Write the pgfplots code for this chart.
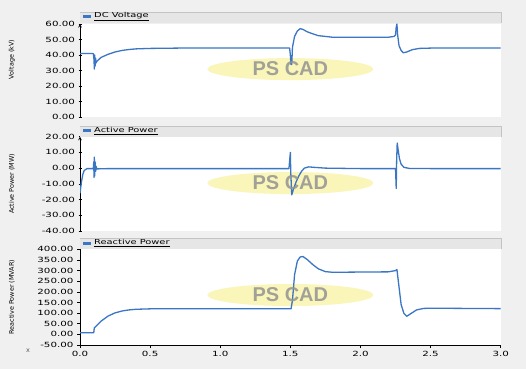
\documentclass[border=0pt]{standalone}
\usepackage{pgfplots}
\pgfplotsset{compat=1.18}
\usepackage{fontspec}
\setmainfont{DejaVu Sans}
\newfontfamily\tickfont[FakeStretch=1.45]{DejaVu Sans}
\newfontfamily\wmfont{Liberation Sans}
\definecolor{bg}{HTML}{F0F0F0}
\definecolor{bar}{HTML}{E6E6E6}
\definecolor{barline}{HTML}{C4C4C4}
\definecolor{trace}{RGB}{58,118,196}
\definecolor{wmy}{RGB}{250,246,185}
\begin{document}
\begin{tikzpicture}
\fill[bg] (0pt,0pt) rectangle (526pt,369pt);
\pgfplotsset{
  panel/.style={
    scale only axis, width=420.7pt,
    xmin=0, xmax=3, 
    axis background/.style={fill=white},
    axis line style={black, line width=0.6pt},
    tick align=outside, tick style={black, line width=0.5pt},
    major tick length=3pt,
    yticklabel style={font=\tickfont\fontsize{7.1}{7.2}\selectfont, /pgf/number format/fixed, /pgf/number format/fixed zerofill, /pgf/number format/precision=2},
    xticklabel style={font=\tickfont\fontsize{7.1}{7.2}\selectfont, /pgf/number format/fixed, /pgf/number format/fixed zerofill, /pgf/number format/precision=1},
    /pgf/number format/assume math mode=true,
    every axis y label/.style={at={(axis description cs:-0.162,0.5)}, rotate=90, anchor=center, font=\fontsize{6.4}{6.5}\selectfont},
    clip=true,
  },
  tr/.style={trace, line width=1.3pt, line join=round},
}
% ---------- Panel 1 ----------
\begin{axis}[panel, name=ax1, at={(80pt,251.7pt)}, anchor=south west, height=93.3pt,
  ymin=0, ymax=60, ytick={0,10,...,60},
  axis y line=left, axis x line=none,
  ylabel={Voltage (kV)},
  every axis y label/.append style={at={(axis description cs:-0.162,0.62)}}]
\fill[wmy] (axis cs:1.5,31) ellipse [x radius=83pt, y radius=11pt];
\addplot[tr] coordinates {
(0,41)(0.095,41)(0.1,37)(0.102,31)(0.105,40)(0.108,33)(0.111,38)(0.115,35)(0.12,36)
(0.15,38.5)(0.2,40.5)(0.25,42)(0.3,43)(0.35,43.6)(0.4,44)(0.5,44.3)(0.7,44.5)(1.0,44.5)
(1.3,44.5)(1.495,44.5)(1.5,40)(1.504,34)(1.51,34)(1.515,45)(1.53,52)(1.55,55.5)(1.57,57)
(1.59,56.5)(1.62,55)(1.65,54)(1.7,52.5)(1.75,52)(1.8,51.5)(2.0,51.5)(2.2,51.5)(2.24,52)
(2.25,53)(2.255,58)(2.26,60)(2.265,53)(2.275,46)(2.29,43)(2.305,41.5)(2.33,42)(2.37,43.5)
(2.42,44.3)(2.5,44.5)(3.0,44.5)};
\node[font=\wmfont\bfseries\fontsize{20}{20}\selectfont, text=gray!85, opacity=0.85] at (axis cs:1.5,31) {PS CAD};
\end{axis}
% ---------- Panel 2 ----------
\begin{axis}[panel, name=ax2, at={(80pt,138pt)}, anchor=south west, height=94.3pt,
  ymin=-40, ymax=20, ytick={-40,-30,...,20},
  axis y line=left, axis x line=none,
  ylabel={Active Power (MW)}]
\fill[wmy] (axis cs:1.5,-9.5) ellipse [x radius=83pt, y radius=11pt];
\addplot[tr] coordinates {
(0,-16)(0.01,-9)(0.02,-4)(0.03,-1.5)(0.05,-0.3)(0.095,-0.3)(0.098,4)(0.1,-6)(0.102,7)(0.105,-5)
(0.108,4)(0.112,-2)(0.116,1)(0.12,-0.5)(0.2,-0.3)(0.5,-0.3)(1.0,-0.3)(1.49,-0.3)(1.5,10)
(1.503,-3)(1.51,-17)(1.52,-14)(1.54,-9)(1.56,-5)(1.58,-2)(1.6,0)(1.63,0.8)(1.67,0.5)(1.75,0)
(2.0,-0.3)(2.25,-0.3)(2.255,-13)(2.258,5)(2.262,16)(2.268,12)(2.278,6)(2.29,2.5)(2.31,0.5)
(2.35,-0.2)(2.5,-0.3)(3.0,-0.3)};
\node[font=\wmfont\bfseries\fontsize{20}{20}\selectfont, text=gray!85, opacity=0.85] at (axis cs:1.5,-9.5) {PS CAD};
\end{axis}
% ---------- Panel 3 ----------
\begin{axis}[panel, name=ax3, at={(80pt,24pt)}, anchor=south west, height=95.7pt,
  ymin=-50, ymax=400, ytick={-50,0,50,...,400},
  xtick={0,0.5,...,3},
  axis x line*=bottom, axis y line*=left,
  ylabel={Reactive Power (MVAR)}]
\fill[wmy] (axis cs:1.5,185) ellipse [x radius=83pt, y radius=11pt];
\addplot[tr] coordinates {
(0,8)(0.098,8)(0.102,30)(0.12,42)(0.15,62)(0.2,86)(0.25,101)(0.3,110)(0.35,115)(0.4,118)
(0.5,120)(0.8,120)(1.2,120)(1.505,120)(1.515,160)(1.53,280)(1.55,345)(1.57,364)(1.59,366)
(1.62,352)(1.66,328)(1.7,308)(1.75,295)(1.8,292)(2.0,293)(2.2,294)(2.25,300)(2.26,305)
(2.27,250)(2.29,140)(2.31,98)(2.33,85)(2.36,98)(2.4,115)(2.45,122)(2.5,123)(3.0,121)};
\node[font=\wmfont\bfseries\fontsize{20}{20}\selectfont, text=gray!85, opacity=0.85] at (axis cs:1.5,185) {PS CAD};
\end{axis}
% ---------- title bars ----------
\foreach \yb/\txt in {346/DC Voltage, 232/Active Power, 119.6/Reactive Power}{
  \fill[bar] (80pt,\yb pt) rectangle (501pt,\yb pt+11pt);
  \draw[barline, line width=0.4pt] (80pt,\yb pt+11pt) -- (501pt,\yb pt+11pt) -- (501pt,\yb pt);
  \fill[trace] (83pt,\yb pt+4.5pt) rectangle (91pt,\yb pt+7.5pt);
  \node[anchor=west, inner sep=0pt, font=\tickfont\fontsize{6.8}{7}\selectfont] at (94pt,\yb pt+6pt) {\underline{\txt}};
}
\node[font=\fontsize{6.5}{6.5}\selectfont, text=gray!70!black] at (28pt,18pt) {x};
\pgfresetboundingbox
\path (0pt,0pt) rectangle (526pt,369pt);
\end{tikzpicture}
\end{document}
